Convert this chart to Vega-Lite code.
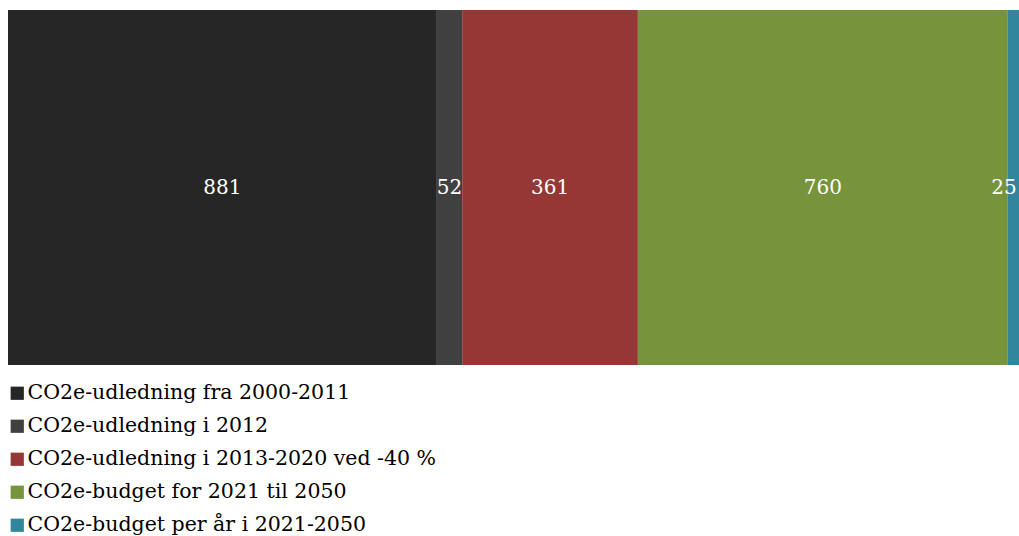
{
  "$schema": "https://vega.github.io/schema/vega-lite/v6.json",
  "width": 1012,
  "height": 355,
  "padding": {"left": 7, "top": 10, "right": 0, "bottom": 0},
  "autosize": {"type": "pad"},
  "background": "#ffffff",
  "config": {
    "view": {"stroke": null},
    "font": "DejaVu Serif"
  },
  "data": {
    "values": [
      {"serie": "CO2e", "kategori": "CO2e-udledning fra 2000-2011", "vaerdi": 881, "raekke": 1},
      {"serie": "CO2e", "kategori": "CO2e-udledning i 2012", "vaerdi": 52, "raekke": 2},
      {"serie": "CO2e", "kategori": "CO2e-udledning i 2013-2020 ved -40 %", "vaerdi": 361, "raekke": 3},
      {"serie": "CO2e", "kategori": "CO2e-budget for 2021 til 2050", "vaerdi": 760, "raekke": 4},
      {"serie": "CO2e", "kategori": "CO2e-budget per år i 2021-2050", "vaerdi": 25, "raekke": 5}
    ]
  },
  "transform": [
    {"stack": "vaerdi", "groupby": [], "sort": [{"field": "raekke"}], "as": ["start", "slut"]},
    {"calculate": "datum.vaerdi < 30 ? datum.slut - 33 : (datum.start + datum.slut) / 2", "as": "etiketX"}
  ],
  "encoding": {
    "y": {"field": "serie", "type": "nominal", "axis": null, "scale": {"paddingInner": 0, "paddingOuter": 0}}
  },
  "layer": [
    {
      "mark": {"type": "bar", "orient": "horizontal"},
      "encoding": {
        "x": {"field": "start", "type": "quantitative", "scale": {"domain": [0, 2079], "nice": false}, "axis": null},
        "x2": {"field": "slut"},
        "color": {
          "field": "kategori",
          "type": "nominal",
          "sort": [
            "CO2e-udledning fra 2000-2011",
            "CO2e-udledning i 2012",
            "CO2e-udledning i 2013-2020 ved -40 %",
            "CO2e-budget for 2021 til 2050",
            "CO2e-budget per år i 2021-2050"
          ],
          "scale": {
            "domain": [
              "CO2e-udledning fra 2000-2011",
              "CO2e-udledning i 2012",
              "CO2e-udledning i 2013-2020 ved -40 %",
              "CO2e-budget for 2021 til 2050",
              "CO2e-budget per år i 2021-2050"
            ],
            "range": ["#262626", "#404040", "#953735", "#77933c", "#31859c"]
          },
          "legend": {
            "title": null,
            "orient": "none",
            "legendX": -1,
            "legendY": 373,
            "direction": "vertical",
            "symbolType": "square",
            "symbolSize": 175,
            "symbolStrokeWidth": 0,
            "labelFontSize": 20.5,
            "labelFont": "DejaVu Serif",
            "labelColor": "#000000",
            "labelOffset": 0,
            "labelLimit": 800,
            "rowPadding": 12,
            "padding": 0
          }
        }
      }
    },
    {
      "mark": {"type": "text", "color": "#ffffff", "fontSize": 20, "font": "DejaVu Serif", "align": "center", "baseline": "middle"},
      "encoding": {
        "x": {"field": "etiketX", "type": "quantitative"},
        "text": {"field": "vaerdi", "type": "quantitative"}
      }
    }
  ]
}
